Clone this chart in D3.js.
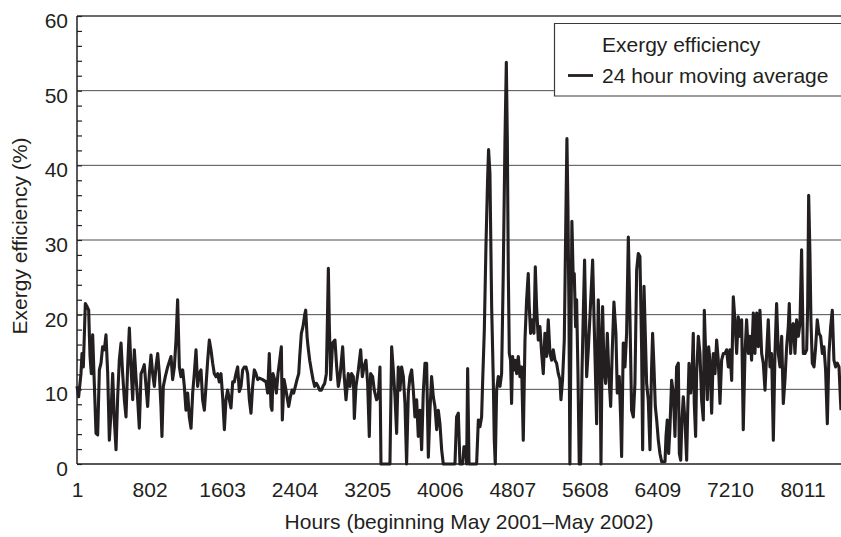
<!DOCTYPE html>
<html>
<head>
<meta charset="utf-8">
<script src="https://cdn.jsdelivr.net/npm/d3@7"></script>
<style>
  body { margin: 0; background: #fff; }
  svg { display: block; }
  text { font-family: "Liberation Sans", Arial, Helvetica, sans-serif; fill: #231f20; }
</style>
</head>
<body>
<svg id="chart" width="841" height="537"></svg>
<script>
// ---- data (hour, 24 h moving-average exergy efficiency %) ----
const movingAverage = [
 [1,10.4],[19,9.0],[45,12.1],[56,14.8],[71,13.0],[93,21.5],[111,21.1],[130,20.6],[137,17.5],[145,14.4],
 [159,12.1],[174,17.3],[192,10.8],[211,4.1],[229,3.9],[248,12.6],[266,13.5],[284,15.7],[303,15.3],[321,17.3],
 [340,12.1],[358,3.2],[376,6.8],[395,12.1],[413,5.9],[432,1.9],[450,9.0],[468,13.9],[487,16.2],[505,12.1],
 [524,8.6],[542,6.3],[560,13.0],[579,18.2],[597,13.0],[616,8.6],[634,15.3],[652,11.7],[671,8.6],[689,4.8],
 [708,12.1],[726,12.6],[744,13.3],[763,10.4],[781,7.7],[800,12.1],[818,14.6],[836,12.1],[855,10.4],[873,13.0],
 [892,14.8],[910,12.1],[928,7.7],[939,3.7],[954,10.4],[976,11.7],[1002,13.0],[1039,14.4],[1057,11.3],[1076,13.0],
 [1094,16.6],[1112,22.0],[1131,13.0],[1149,11.7],[1168,12.6],[1186,10.4],[1204,7.2],[1223,9.5],[1241,6.3],[1260,4.8],
 [1278,9.5],[1296,12.1],[1315,15.3],[1333,10.4],[1352,12.1],[1370,12.6],[1388,8.6],[1407,7.2],[1425,10.4],[1444,13.9],
 [1462,16.6],[1480,15.3],[1499,13.5],[1517,12.1],[1536,11.7],[1554,12.1],[1572,11.0],[1591,12.1],[1609,9.0],[1628,4.6],
 [1646,8.6],[1664,9.9],[1683,8.6],[1701,7.5],[1720,11.0],[1738,11.0],[1756,12.1],[1775,13.0],[1793,9.7],[1812,10.4],
 [1830,12.6],[1848,13.0],[1867,13.0],[1885,12.1],[1904,8.6],[1922,6.8],[1940,10.4],[1959,12.6],[1977,12.1],[1996,11.3],
 [2014,11.5],[2051,11.3],[2088,11.0],[2106,9.5],[2124,14.8],[2143,7.7],[2154,7.2],[2165,12.1],[2184,11.3],[2202,9.5],
 [2220,12.1],[2239,13.9],[2257,15.7],[2268,5.9],[2287,11.3],[2301,10.4],[2320,9.0],[2338,7.7],[2357,9.0],[2375,9.9],
 [2393,9.5],[2412,10.4],[2430,11.3],[2449,12.1],[2460,14.4],[2478,17.5],[2496,18.4],[2515,20.0],[2526,20.6],[2541,17.1],
 [2552,15.7],[2570,13.9],[2588,12.6],[2607,11.3],[2625,10.4],[2644,10.8],[2662,10.4],[2680,9.9],[2699,9.9],[2717,10.4],
 [2736,10.8],[2754,12.1],[2765,18.8],[2776,26.2],[2787,18.4],[2802,11.3],[2823,16.2],[2849,16.6],[2868,13.0],[2886,10.4],
 [2904,11.7],[2934,15.7],[2949,12.1],[2971,8.6],[2996,12.1],[3015,10.4],[3033,12.1],[3052,11.7],[3063,6.1],[3081,10.4],
 [3107,12.6],[3133,15.3],[3151,11.7],[3169,13.0],[3191,13.9],[3210,10.8],[3228,3.7],[3243,12.1],[3265,11.7],[3283,9.9],
 [3309,8.6],[3328,9.0],[3346,13.0],[3357,0],[3383,0],[3420,0],[3456,0],[3475,15.7],[3493,12.6],[3512,9.0],
 [3530,4.1],[3548,13.0],[3567,9.9],[3585,13.0],[3604,11.7],[3622,8.1],[3640,0],[3659,9.5],[3677,11.7],[3696,12.6],
 [3714,9.9],[3732,6.3],[3751,8.6],[3769,3.7],[3788,7.2],[3806,1.9],[3824,9.5],[3843,13.5],[3861,13.5],[3880,0.9],
 [3898,7.2],[3916,11.7],[3935,9.0],[3953,7.7],[3972,4.6],[3990,7.2],[4008,5.4],[4027,1.9],[4045,0],[4119,0],
 [4174,0],[4192,6.3],[4211,6.8],[4229,0],[4259,0],[4273,2.3],[4292,2.3],[4303,0],[4314,12.8],[4329,0],
 [4413,0],[4432,5.9],[4450,5.0],[4468,6.3],[4479,10.8],[4498,17.9],[4516,29.1],[4534,38.0],[4545,42.1],[4560,38.9],
 [4568,31.3],[4579,21.1],[4597,11.3],[4608,3.2],[4619,0],[4634,9.9],[4652,11.7],[4671,10.4],[4689,12.1],[4707,25.5],
 [4726,43.4],[4741,53.8],[4752,43.4],[4763,25.5],[4774,14.8],[4788,13.9],[4799,8.1],[4810,14.4],[4825,12.6],[4840,13.9],
 [4855,12.1],[4873,14.4],[4891,11.7],[4910,13.0],[4928,3.2],[4947,16.6],[4965,22.0],[4983,25.5],[4994,21.1],[5009,17.5],
 [5028,19.3],[5046,17.5],[5061,26.4],[5075,21.1],[5094,16.6],[5112,18.4],[5131,14.8],[5149,12.1],[5167,17.5],[5186,14.4],
 [5204,19.3],[5223,14.8],[5241,13.9],[5259,15.3],[5278,13.9],[5296,13.5],[5315,12.1],[5333,11.3],[5344,8.6],[5362,11.3],
 [5381,16.6],[5399,33.6],[5410,43.6],[5421,34.5],[5432,21.1],[5443,0],[5454,16.6],[5465,32.5],[5480,24.6],[5491,25.5],
 [5506,18.4],[5517,22.0],[5532,12.1],[5546,0],[5561,0],[5576,12.1],[5591,20.2],[5605,27.3],[5628,11.7],[5646,15.3],
 [5664,19.7],[5694,27.3],[5709,19.7],[5723,13.0],[5738,5.4],[5756,22.0],[5775,15.3],[5786,0],[5804,21.1],[5819,13.0],
 [5837,10.8],[5856,17.5],[5874,11.7],[5893,7.7],[5911,15.3],[5929,21.7],[5951,17.5],[5966,9.5],[5988,11.7],[6003,6.3],
 [6014,1.0],[6032,16.2],[6051,13.0],[6069,17.5],[6088,30.4],[6106,19.7],[6124,7.2],[6143,6.3],[6161,10.8],[6180,26.0],
 [6198,28.2],[6216,27.8],[6235,15.3],[6246,1.9],[6261,23.8],[6275,17.5],[6290,10.8],[6308,8.6],[6327,1.9],[6345,13.0],
 [6356,17.5],[6371,13.0],[6386,7.7],[6401,5.9],[6419,3.2],[6437,1.4],[6456,0.3],[6493,0.3],[6504,3.7],[6518,5.9],
 [6533,1.4],[6548,5.0],[6566,11.2],[6585,9.5],[6603,3.7],[6621,13.0],[6640,13.5],[6651,1.4],[6666,0.5],[6680,5.9],
 [6695,9.0],[6713,5.9],[6732,0.5],[6743,6.8],[6758,13.5],[6776,9.5],[6794,13.0],[6805,17.5],[6816,8.1],[6831,3.7],
 [6842,12.1],[6861,17.1],[6879,14.8],[6897,8.6],[6916,5.9],[6927,20.6],[6942,14.8],[6960,8.6],[6975,15.7],[6989,13.9],
 [7008,6.8],[7026,14.8],[7045,12.1],[7063,16.6],[7081,13.9],[7100,8.1],[7118,13.9],[7137,14.8],[7155,14.8],[7173,15.3],
 [7192,13.0],[7210,15.3],[7229,11.2],[7247,22.4],[7265,19.3],[7284,14.8],[7302,19.7],[7321,17.1],[7339,19.3],[7357,4.6],
 [7376,14.8],[7394,19.3],[7413,14.8],[7431,17.1],[7449,13.9],[7468,20.2],[7486,14.8],[7505,20.2],[7523,15.7],[7541,20.6],
 [7560,14.8],[7578,13.5],[7597,9.9],[7615,14.8],[7633,19.3],[7652,13.0],[7670,14.8],[7689,3.2],[7707,14.8],[7725,21.5],
 [7744,14.8],[7762,13.0],[7781,17.1],[7799,8.1],[7817,11.2],[7836,15.7],[7854,18.4],[7865,21.5],[7880,14.8],[7895,18.4],
 [7909,18.8],[7928,14.8],[7946,19.3],[7965,17.1],[7983,18.8],[8001,28.7],[8020,14.8],[8038,14.8],[8057,15.3],[8068,21.1],
 [8079,36.0],[8093,28.2],[8104,19.3],[8119,13.5],[8138,13.0],[8156,15.7],[8174,19.3],[8193,17.5],[8211,17.1],[8230,14.8],
 [8248,15.7],[8266,12.6],[8285,5.4],[8303,14.8],[8322,18.4],[8340,20.6],[8358,13.9],[8377,13.0],[8395,13.5],[8414,13.0],
 [8432,8.1],[8436,7.2]
];
const xTickValues = [1, 802, 1603, 2404, 3205, 4006, 4807, 5608, 6409, 7210, 8011];
const yTickValues = [0, 10, 20, 30, 40, 50, 60];
const yMinorTickValues = [0, 2, 4, 6, 8, 10, 12, 14, 16, 18, 20, 22, 24, 26, 28, 30, 32, 34, 36, 38, 40, 42, 44, 46, 48, 50, 52, 54, 56, 58, 60];
const legendLabels = ["Exergy efficiency", "24 hour moving average"];
const xTitle = "Hours (beginning May 2001\u2013May 2002)";
const yTitle = "Exergy efficiency (%)";
const xDomain = [1, 8436];
const yDomain = [0, 60];

// ---- layout ----
const L = 77, R = 841, T = 16, B = 464;
const FS = 21;
const ink = "#231f20";
const svg = d3.select("#chart");
const x = d3.scaleLinear().domain(xDomain).range([L, R]);
const y = d3.scaleLinear().domain(yDomain).range([B, T]);

// gridlines
svg.append("g").selectAll("line")
  .data(yTickValues.filter(v => v > yDomain[0] && v < yDomain[1]))
  .join("line")
  .attr("x1", L).attr("x2", R)
  .attr("y1", d => y(d)).attr("y2", d => y(d))
  .attr("stroke", "#4d4d4d").attr("stroke-width", 1);

// top border
svg.append("line").attr("x1", L).attr("x2", R).attr("y1", y(60)).attr("y2", y(60))
  .attr("stroke", "#3a3a3a").attr("stroke-width", 1.5);

// data line
const line = d3.line().x(d => x(d[0])).y(d => y(d[1]));
svg.append("path").datum(movingAverage)
  .attr("d", line)
  .attr("fill", "none")
  .attr("stroke", ink)
  .attr("stroke-width", 3.1)
  .attr("stroke-linejoin", "round");

// y axis: minor ticks inward
const yMinor = svg.append("g").attr("transform", `translate(${L},0)`)
  .call(d3.axisLeft(y).tickValues(yMinorTickValues).tickSizeInner(-5).tickSizeOuter(0).tickFormat(""));
yMinor.select(".domain").remove();
yMinor.selectAll(".tick line").attr("stroke", ink).attr("stroke-width", 1.2);

// y labels
const yLab = svg.append("g").attr("transform", `translate(${L},0)`)
  .call(d3.axisLeft(y).tickValues(yTickValues).tickSize(0).tickPadding(9).tickFormat(d3.format("d")));
yLab.select(".domain").remove();
yLab.selectAll("text").attr("font-size", FS).attr("dy", "0.54em")
  .style("font-family", '"Liberation Sans", Arial, sans-serif').attr("fill", ink);

// x labels
const xLab = svg.append("g").attr("transform", `translate(0,${B})`)
  .call(d3.axisBottom(x).tickValues(xTickValues).tickSize(0).tickPadding(18).tickFormat(d3.format("d")));
xLab.select(".domain").remove();
xLab.selectAll("text").attr("font-size", FS)
  .style("font-family", '"Liberation Sans", Arial, sans-serif').attr("fill", ink);

// axis lines
svg.append("line").attr("x1", L).attr("x2", L).attr("y1", T).attr("y2", B)
  .attr("stroke", ink).attr("stroke-width", 1.5);
svg.append("line").attr("x1", L).attr("x2", R).attr("y1", B).attr("y2", B)
  .attr("stroke", ink).attr("stroke-width", 1.5);

// axis titles
svg.append("text").attr("x", (L + R) / 2 + 10).attr("y", 529)
  .attr("text-anchor", "middle").attr("font-size", FS).text(xTitle);
svg.append("text").attr("transform", `translate(27,${(T + B) / 2 - 4}) rotate(-90)`)
  .attr("text-anchor", "middle").attr("font-size", FS).text(yTitle);

// legend
const lg = svg.append("g");
lg.append("rect").attr("x", 554.5).attr("y", 23.5).attr("width", 290).attr("height", 72.5)
  .attr("fill", "#fff").attr("stroke", "none");
lg.append("path").attr("d", `M${R},23.5 H554.5 V96 H${R}`)
  .attr("fill", "none").attr("stroke", "#3a3a3a").attr("stroke-width", 1.2);
lg.append("text").attr("x", 602).attr("y", 52).attr("font-size", FS).text(legendLabels[0]);
lg.append("line").attr("x1", 568).attr("x2", 593).attr("y1", 75.5).attr("y2", 75.5)
  .attr("stroke", ink).attr("stroke-width", 2.8);
lg.append("text").attr("x", 602).attr("y", 83).attr("font-size", FS).text(legendLabels[1]);
</script>
</body>
</html>
